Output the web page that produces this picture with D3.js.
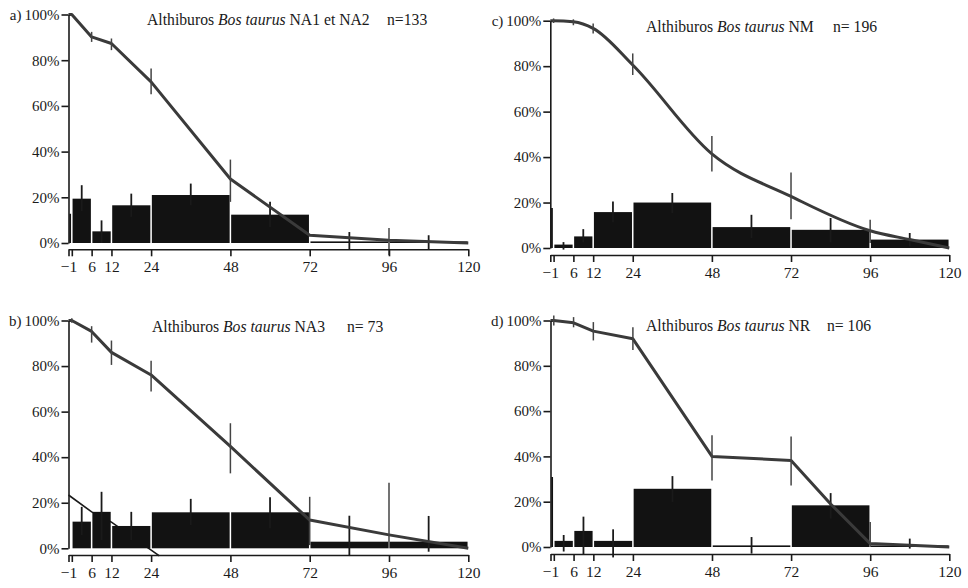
<!DOCTYPE html>
<html>
<head>
<meta charset="utf-8">
<script src="https://d3js.org/d3.v7.min.js"></script>
<style>
  body { margin: 0; background: #fff; }
  .axis path, .axis line { stroke: #1a1a1a; stroke-width: 1.6; }
</style>
</head>
<body>
<div id="chart"></div>
<script>
var serif = "'Liberation Serif', 'DejaVu Serif', serif";

// age classes in months (class A is -1..0, then B..H)
var ageClasses = [-1, 0, 6, 12, 24, 48, 72, 96, 120];
var xTickValues = [-1, 0, 6, 12, 24, 48, 72, 96, 120];
var yTickValues = [0, 20, 40, 60, 80, 100];

// a) NA1 et NA2
var survivalA = [[-1, 100], [0, 100], [6, 90.2], [12, 87.3], [24, 70.5], [48, 28], [72, 3.4], [96, 1.2], [120, 0]];
var survivalErrA = [[6, 88, 92.4], [12, 84.4, 89.5], [24, 65.1, 76.4], [48, 18, 36.5], [96, -5.4, 6.6]];
var barsA = [12.8, 19.4, 5.1, 16.5, 21, 12.4, 0.5, 0.3];
var barErrA = [null, [14, 25.3], [0, 9.9], [11.4, 21.6], [16.5, 26], [7, 18], [-2.9, 4.8], [-2.9, 3.4]];

// b) NA3
var survivalB = [[-1, 100], [0, 100], [6, 95.2], [12, 86], [24, 76.1], [48, 44.7], [72, 12.4], [96, 5.9], [120, 0]];
var survivalErrB = [[0, 99, 101], [6, 90.3, 97.5], [12, 80.5, 91.2], [24, 68.8, 82.3], [48, 32.9, 54.9], [72, 1.4, 22.6], [96, 0, 28.8]];
var barsB = [null, 11.7, 16, 9.8, 15.8, 15.8, 2.9, 2.9];
var barErrB = [null, [5.8, 18.2], [3.6, 24.8], [3.6, 16], [10.2, 21.7], [8.8, 22.4], [-3.4, 14.3], [-1.5, 14.2]];
var strayLineB = [[-1, 23.4], [6, 16], [12, 11.5], [26.5, -3.3]];

// c) NM
var survivalC = [[-1, 100], [0, 100], [6, 99.5], [12, 96.6], [24, 80.5], [48, 41.4], [72, 22.7], [96, 7.6], [108, 3.7], [120, 0]];
var survivalErrC = [[0, 99, 101], [6, 98, 100.6], [12, 94.4, 98.8], [24, 76.1, 85.6], [48, 33.7, 49.3], [72, 12.7, 33.2], [96, 2.2, 12.4]];
var barsC = [17.6, 1.5, 5.1, 15.8, 20, 9.2, 8, 3.7];
var barErrC = [null, [-0.7, 2.6], [2.5, 8.3], [11.3, 20.5], [15.4, 24.2], [4.4, 14.6], [2.5, 13.2], [0.7, 6.6]];

// d) NR
var survivalD = [[-1, 100], [0, 100], [6, 99], [12, 95.3], [24, 91.9], [48, 40], [72, 38.2], [84, 19], [96, 1.5], [120, 0]];
var survivalErrD = [[0, 97.8, 102.2], [6, 97, 101.5], [12, 91.2, 99.3], [24, 87, 97], [48, 29.4, 49.3], [72, 27.2, 48.8], [96, 0, 11]];
var barsD = [30.9, 2.7, 7.1, 2.7, 25.7, 0, 18.4, 0];
var barErrD = [null, [-2, 5.3], [-3.5, 13.4], [-4.6, 7.8], [19.9, 31.3], [-2.9, 4.4], [12.5, 23.8], [-0.7, 3.7]];

var panels = [
  { letter: "a)", site: "NA1 et NA2", n: "n=133", survival: survivalA, survErr: survivalErrA, bars: barsA, barErr: barErrA,
    xl: 68.5, xr: 468.3, y100: 14.5, y0: 243, axisY: 249.3, titleX: 147, titleY: 25, nX: 387, smooth: false },
  { letter: "b)", site: "NA3", n: "n= 73", survival: survivalB, survErr: survivalErrB, bars: barsB, barErr: barErrB, stray: strayLineB,
    xl: 68.5, xr: 468.3, y100: 320.5, y0: 548.3, axisY: 555, titleX: 152, titleY: 331.5, nX: 347, smooth: false },
  { letter: "c)", site: "NM", n: "n= 196", survival: survivalC, survErr: survivalErrC, bars: barsC, barErr: barErrC,
    xl: 550.3, xr: 949.3, y100: 20.7, y0: 248, axisY: 255, titleX: 646, titleY: 31.5, nX: 833, smooth: true },
  { letter: "d)", site: "NR", n: "n= 106", survival: survivalD, survErr: survivalErrD, bars: barsD, barErr: barErrD,
    xl: 550.5, xr: 949.3, y100: 320.5, y0: 547, axisY: 554, titleX: 646, titleY: 331, nX: 827, smooth: false }
];

var svg = d3.select("#chart").append("svg")
  .attr("width", 968)
  .attr("height", 588);

panels.forEach(function(p) {
  var g = svg.append("g");

  var x = d3.scaleLinear().domain([-1, 120]).range([p.xl, p.xr]);
  var y = d3.scaleLinear().domain([0, 100]).range([p.y0, p.y100]);

  // odd stray line (only panel b)
  if (p.stray) {
    g.append("path")
      .datum(p.stray)
      .attr("fill", "none")
      .attr("stroke", "#1a1a1a")
      .attr("stroke-width", 1.6)
      .attr("d", d3.line().x(d => x(d[0])).y(d => y(d[1])));
  }

  // bars for each age class
  var barData = p.bars.map(function(v, i) {
    return { v: v, x0: ageClasses[i], x1: ageClasses[i + 1], err: p.barErr[i] };
  });

  g.selectAll("rect.bar")
    .data(barData.filter(d => d.v !== null))
    .enter()
    .append("rect")
    .attr("class", "bar")
    .attr("x", d => x(d.x0) + 0.75)
    .attr("width", d => x(d.x1) - x(d.x0) - 1.5)
    .attr("y", d => Math.min(y(d.v), y(0) - 1.6))
    .attr("height", d => Math.max(y(0) - y(d.v), 1.6))
    .attr("fill", "#121212");

  // bar error bars
  g.selectAll("line.barerr")
    .data(barData.filter(d => d.err))
    .enter()
    .append("line")
    .attr("x1", d => x((d.x0 + d.x1) / 2))
    .attr("x2", d => x((d.x0 + d.x1) / 2))
    .attr("y1", d => y(d.err[0]))
    .attr("y2", d => y(d.err[1]))
    .attr("stroke", "#1a1a1a")
    .attr("stroke-width", 1.8);

  // survival curve
  var line = d3.line()
    .x(d => x(d[0]))
    .y(d => y(d[1]))
    .curve(p.smooth ? d3.curveMonotoneX : d3.curveLinear);

  g.append("path")
    .datum(p.survival)
    .attr("fill", "none")
    .attr("stroke", "#3a3a3a")
    .attr("stroke-width", 3)
    .attr("stroke-linejoin", "round")
    .attr("d", line);

  // survival error bars
  g.selectAll("line.surverr")
    .data(p.survErr)
    .enter()
    .append("line")
    .attr("x1", d => x(d[0]))
    .attr("x2", d => x(d[0]))
    .attr("y1", d => y(d[1]))
    .attr("y2", d => y(d[2]))
    .attr("stroke", "#444")
    .attr("stroke-width", 1.5);

  // y axis
  var leftAxis = d3.axisLeft(y)
    .tickValues(yTickValues)
    .tickSize(7)
    .tickSizeOuter(0)
    .tickPadding(2)
    .tickFormat(d => d + "%");

  var yAxisG = g.append("g")
    .attr("class", "axis")
    .attr("transform", `translate(${p.xl}, 0)`)
    .call(leftAxis)
    .attr("font-family", serif)
    .attr("font-size", 15);
  yAxisG.selectAll("text").attr("fill", "#1a1a1a");

  // x axis, offset below the zero line
  var bottomAxis = d3.axisBottom(x)
    .tickValues(xTickValues)
    .tickSize(7)
    .tickSizeOuter(0)
    .tickPadding(5)
    .tickFormat(d => d === 0 ? "" : (d < 0 ? "\u2212" + Math.abs(d) : d));

  g.append("g")
    .attr("class", "axis")
    .attr("transform", `translate(0, ${p.axisY})`)
    .call(bottomAxis)
    .attr("font-family", serif)
    .attr("font-size", 15.5)
    .selectAll("text").attr("fill", "#1a1a1a");

  // panel letter, just left of the 100% label
  var topLabel = yAxisG.selectAll(".tick text").filter(d => d === 100).node();
  var labelLeft = p.xl - 9 - topLabel.getComputedTextLength();
  g.append("text")
    .attr("x", labelLeft - 3)
    .attr("y", p.y100 + 5)
    .attr("text-anchor", "end")
    .attr("font-family", serif)
    .attr("font-size", 15)
    .attr("fill", "#1a1a1a")
    .text(p.letter);

  // title
  var title = g.append("text")
    .attr("x", p.titleX)
    .attr("y", p.titleY)
    .attr("font-family", serif)
    .attr("font-size", 15.7)
    .attr("fill", "#1a1a1a");
  title.append("tspan").text("Althiburos ");
  title.append("tspan").attr("font-style", "italic").text("Bos taurus");
  title.append("tspan").text(" " + p.site);

  g.append("text")
    .attr("x", p.nX)
    .attr("y", p.titleY)
    .attr("font-family", serif)
    .attr("font-size", 15.7)
    .attr("fill", "#1a1a1a")
    .text(p.n);
});
</script>
</body>
</html>
